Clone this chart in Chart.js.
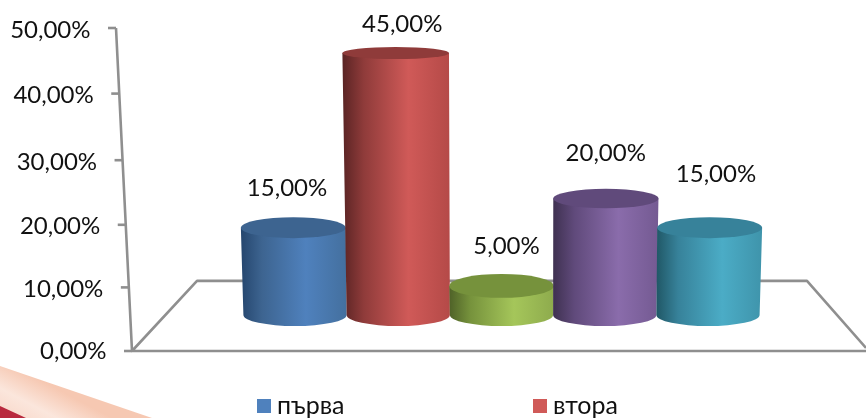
<!DOCTYPE html>
<html>
<head>
<meta charset="utf-8">
<script src="https://cdn.jsdelivr.net/npm/chart.js@4"></script>
<style>
  html, body { margin: 0; padding: 0; background: #fff; overflow: hidden; }
  #wrap { width: 866px; height: 418px; position: relative; }
</style>
</head>
<body>
<div id="wrap"><canvas id="c" width="866" height="418"></canvas></div>
<script>
const categories = ['първа', 'втора', 'трета', 'четвърта', 'пета'];
const values = [15, 45, 5, 20, 15];
const tickValues = [0, 10, 20, 30, 40, 50];
const tickLabels = ['0,00%', '10,00%', '20,00%', '30,00%', '40,00%', '50,00%'];
const legendShown = 2;

// side colours: left edge, highlight, right edge / lid
const sideDark = ['#25466e', '#5a2424', '#4f6228', '#3f3151', '#215968'];
const sideLight = ['#4f81bd', '#d05a58', '#a5c65a', '#8a6cab', '#4bacc6'];
const sideRight = ['#44709f', '#b54a48', '#8eab4d', '#745a92', '#3f94ab'];
const lidColor = ['#3d6490', '#8f3b3a', '#76923c', '#604a7b', '#37829a'];

const FONT = 'Lato, Carlito, "Open Sans", sans-serif';
const GREY = '#8f8f8f';
const labelOffset = [[-8, -39], [4, -29], [5, -40], [1, -45], [8, -53]];
// the wall is foreshortened a little, ticks do not sit exactly evenly
const tickNudge = [0, 1, 3, 3, 1, 0];
const tickLabelDy = [0, 2, 1, 2, 2, 2];

// wall runs from (132,351) up to (116,28)
function wallX(y) { return 132 - (351 - y) * 16 / 323; }

const cylinders = {
  id: 'cylinders',
  beforeDraw(chart) {
    const c = chart.ctx;
    // corner swoosh of the slide behind the chart
    c.save();
    c.beginPath();
    c.moveTo(0, 366); c.lineTo(152, 418); c.lineTo(0, 418); c.closePath();
    const g = c.createLinearGradient(40, 380, 20, 418);
    g.addColorStop(0, '#f6c8b2');
    g.addColorStop(0.6, '#fbe6dc');
    g.addColorStop(1, '#f9dccf');
    c.fillStyle = g;
    c.fill();
    c.beginPath();
    c.moveTo(0, 406); c.lineTo(26, 418); c.lineTo(0, 418); c.closePath();
    c.fillStyle = '#b92a3e';
    c.fill();
    c.restore();
  },
  beforeDatasetsDraw(chart) {
    const c = chart.ctx;
    const y = chart.scales.y;
    const zero = y.getPixelForValue(0);
    const back = y.getPixelForValue(10.85);

    c.save();
    c.strokeStyle = GREY;
    c.lineWidth = 2.6;
    c.lineJoin = 'round';
    // walls and floor
    c.beginPath();
    c.moveTo(wallX(y.getPixelForValue(50)), y.getPixelForValue(50));
    c.lineTo(132, zero);
    c.lineTo(866, zero);
    c.moveTo(132, zero);
    c.lineTo(197, back);
    c.lineTo(807, back);
    c.lineTo(866, zero - 3);
    c.stroke();

    c.font = '24px ' + FONT;
    c.textBaseline = 'middle';
    c.textAlign = 'right';
    c.fillStyle = '#111';
    tickValues.forEach((v, i) => {
      const py = y.getPixelForValue(v) + tickNudge[i];
      const ax = wallX(py);
      c.beginPath();
      c.moveTo(ax - 8, py);
      c.lineTo(ax, py);
      c.stroke();
      c.fillText(tickLabels[i], ax - 25.5, py + tickLabelDy[i]);
    });
    c.restore();

    chart.data.datasets.forEach((ds, i) => {
      const bar = chart.getDatasetMeta(i).data[i];
      drawCylinder(c, bar, i);
    });

    // value labels
    c.save();
    c.font = '24px ' + FONT;
    c.textAlign = 'center';
    c.textBaseline = 'middle';
    c.fillStyle = '#111';
    chart.data.datasets.forEach((ds, i) => {
      const bar = chart.getDatasetMeta(i).data[i];
      const [dx, dy] = labelOffset[i];
      c.fillText(values[i].toFixed(2).replace('.', ',') + '%', bar.x + dx, bar.y + dy);
    });

    // legend, only the first entries fit in the crop
    c.textAlign = 'left';
    c.font = '25px ' + FONT;
    [257, 533].slice(0, legendShown).forEach((x, i) => {
      c.fillStyle = sideLight[i];
      c.fillRect(x, 399, 14, 14);
      c.fillStyle = '#111';
      c.fillText(categories[i], x + 20, 406);
    });
    c.restore();
    return false;
  }
};

function drawCylinder(c, bar, i) {
  const cx0 = bar.x, w0 = bar.width / 2;
  const top = bar.y, base = bar.base;
  // columns lean outward from the middle of the floor as they get taller
  const spread = 1 + 0.00055 * values[i];
  const mid = 502;
  const xTop = mid + (cx0 - mid) * spread;
  const wTop = w0 * spread + 0.4;
  const ryTop = 6 + (top - 52) * 6 / 235;
  const ryBase = 11;

  const g = c.createLinearGradient(xTop - wTop, 0, xTop + wTop, 0);
  g.addColorStop(0, sideDark[i]);
  g.addColorStop(0.2, lidColor[i]);
  g.addColorStop(0.62, sideLight[i]);
  g.addColorStop(1, sideRight[i]);

  c.save();
  c.beginPath();
  c.moveTo(xTop - wTop, top);
  c.lineTo(cx0 - w0, base);
  c.ellipse(cx0, base, w0, ryBase, 0, Math.PI, 0, true);
  c.lineTo(xTop + wTop, top);
  c.closePath();
  c.fillStyle = g;
  c.fill();
  c.beginPath();
  c.ellipse(xTop, top, wTop, ryTop, 0, 0, Math.PI * 2);
  c.fillStyle = lidColor[i];
  c.fill();
  c.restore();
}

const datasets = categories.map((name, i) => ({
  label: name,
  data: categories.map((_, j) => (j === i ? values[i] : null)),
  backgroundColor: sideLight[i],
  yAxisID: 'yBars',
  grouped: false,
  barPercentage: 1,
  categoryPercentage: 1
}));

new Chart(document.getElementById('c'), {
  type: 'bar',
  data: { labels: categories, datasets },
  plugins: [cylinders],
  options: {
    responsive: false,
    animation: false,
    layout: { padding: { left: 243.4, right: 106.4, top: 28, bottom: 67 } },
    plugins: { legend: { display: false }, tooltip: { enabled: false } },
    scales: {
      x: { display: false },
      y: { display: false, min: 0, max: 50 },
      // column heights sit on the floor, not on the wall scale
      yBars: { display: false, min: -6.19, max: 49.31 }
    }
  }
});
</script>
</body>
</html>
